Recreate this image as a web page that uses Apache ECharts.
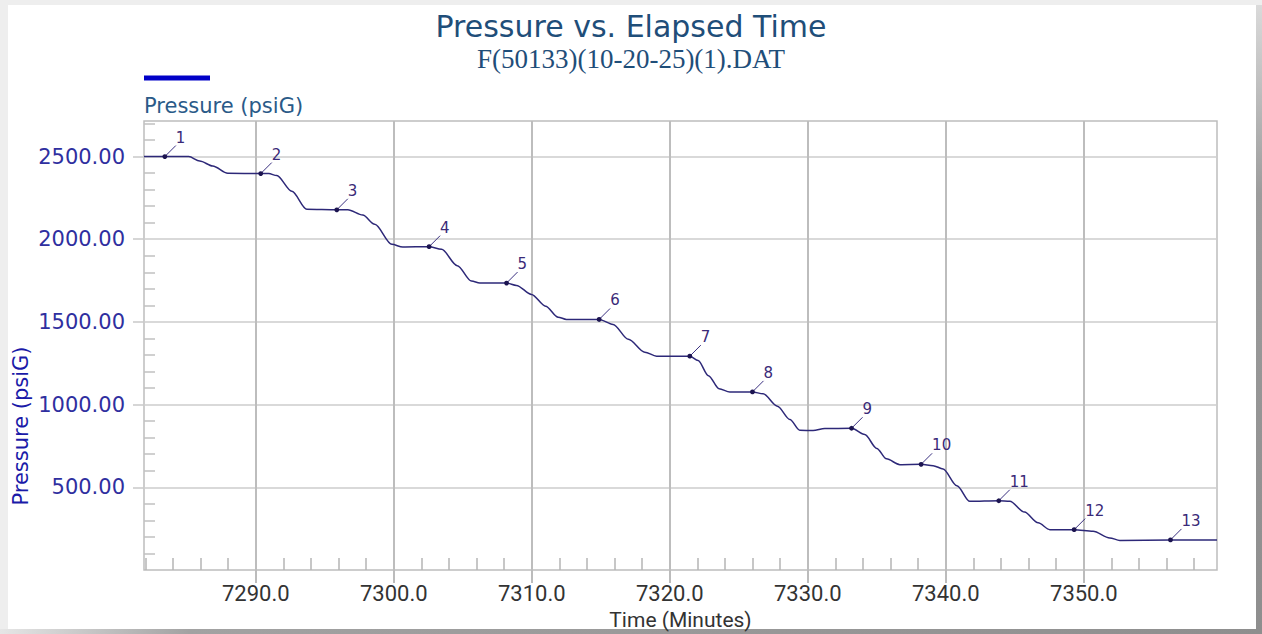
<!DOCTYPE html>
<html><head><meta charset="utf-8">
<script src="https://cdn.jsdelivr.net/npm/echarts@6/dist/echarts.min.js"></script>
<style>
html,body{margin:0;padding:0;width:1262px;height:634px;overflow:hidden;background:#eeeeee;}
#white{position:absolute;left:8px;top:5px;width:1248px;height:624px;background:#fff;}
#rshadow{position:absolute;left:1256px;top:5px;width:6px;height:629px;background:linear-gradient(to bottom,#dadada,#9c9c9c 30%,#8e8e8e);}
#bshadow{position:absolute;left:0;top:629px;width:1262px;height:5px;background:linear-gradient(to right,#e6e6e6,#a2a2a2 15%,#8e8e8e);}
#chart{position:absolute;left:0;top:0;width:1262px;height:634px;}
</style></head>
<body>
<div id="white"></div><div id="rshadow"></div><div id="bshadow"></div>
<div id="chart"></div>
<script>
const titleText = 'Pressure vs. Elapsed Time';
const subtitleText = 'F(50133)(10-20-25)(1).DAT';
const seriesName = 'Pressure (psiG)';
const xAxisName = 'Time (Minutes)';
const yAxisName = 'Pressure (psiG)';

const xMajorTicks = [7290, 7300, 7310, 7320, 7330, 7340, 7350];
const xMinorTicks = [7282, 7284, 7286, 7288, 7292, 7294, 7296, 7298, 7302, 7304, 7306, 7308,
  7312, 7314, 7316, 7318, 7322, 7324, 7326, 7328, 7332, 7334, 7336, 7338,
  7342, 7344, 7346, 7348, 7352, 7354, 7356, 7358];
const yMajorTicks = [500, 1000, 1500, 2000, 2500];
const yMinorTicks = [100, 200, 300, 400, 600, 700, 800, 900, 1100, 1200, 1300, 1400,
  1600, 1700, 1800, 1900, 2100, 2200, 2300, 2400, 2600, 2700];

const timeValues = [7281.9, 7283.41, 7285.14, 7285.94, 7286.88, 7287.97, 7290.36, 7290.94,
  7291.52, 7292.61, 7293.70, 7295.87, 7296.67, 7297.75, 7298.62, 7299.86, 7300.65, 7302.56,
  7303.46, 7304.6, 7305.63, 7306.23, 7308.17, 7308.89, 7309.98, 7311.0, 7311.91, 7312.51, 7314.88,
  7315.89, 7317.0, 7318.19, 7319.04, 7321.45, 7322.05, 7322.8, 7323.57, 7324.35, 7325.99,
  7326.76, 7327.8, 7328.70, 7329.42, 7330.38, 7331.23, 7333.17, 7334.13, 7335.0, 7335.70, 7336.67,
  7338.21, 7339.08, 7339.80, 7340.8, 7341.74, 7343.84, 7344.64, 7345.7, 7346.69, 7347.54, 7349.30,
  7350.67, 7351.88, 7352.61, 7356.28, 7359.65];
const pressureValues = [2500, 2500, 2500, 2473, 2443, 2399, 2397, 2397,
  2385, 2290, 2181, 2178, 2178, 2146, 2090, 1969, 1953, 1955,
  1939, 1840, 1747, 1735, 1735, 1721, 1666, 1595, 1529, 1515, 1515,
  1485, 1395, 1317, 1293, 1293, 1267, 1175, 1096, 1077, 1077,
  1065, 990, 910, 845, 843, 855, 857, 819, 735, 672, 637,
  639, 631, 611, 510, 415, 419, 415, 350, 285, 244, 244,
  234, 194, 179, 182, 182];

const markerIds = [1, 2, 3, 4, 5, 6, 7, 8, 9, 10, 11, 12, 13];
const markerTimes = [7283.41, 7290.36, 7295.87, 7302.56, 7308.17, 7314.88, 7321.45, 7325.99,
  7333.17, 7338.21, 7343.84, 7349.30, 7356.28];
const markerPressures = [2500, 2397, 2178, 1955, 1735, 1515, 1293, 1077, 857, 639, 419, 244, 182];

const X_MIN = 7281.9, X_MAX = 7359.65, Y_MIN = 0, Y_MAX = 2715;

const chart = echarts.init(document.getElementById('chart'), null, {renderer: 'svg'});
const lineData = timeValues.map((t, i) => [t, pressureValues[i]]);
const markerData = markerIds.map((id, i) => [markerTimes[i], markerPressures[i], id]);

chart.setOption({
  backgroundColor: 'transparent',
  animation: false,
  title: [
    {text: titleText, left: 'center', top: 6,
     textStyle: {fontFamily: 'DejaVu Sans', fontSize: 30, fontWeight: 'normal', color: '#1f4e79'}},
    {text: subtitleText, left: 'center', top: 40,
     textStyle: {fontFamily: 'Liberation Serif', fontSize: 27, fontWeight: 'normal', color: '#1f4e79'}}
  ],
  grid: {left: 144, right: 45, top: 121, bottom: 64, show: true, outerBoundsMode: 'none', containLabel: false,
         borderColor: '#bdbdbd', borderWidth: 1.5, backgroundColor: 'transparent'},
  xAxis: [
    {type: 'value', min: X_MIN, max: X_MAX, position: 'bottom',
     axisLine: {show: false},
     axisTick: {show: true, customValues: xMajorTicks, length: 13, lineStyle: {color: '#bcbcbc', width: 2}},
     axisLabel: {customValues: xMajorTicks, formatter: v => v.toFixed(1), fontFamily: 'Roboto',
                 fontSize: 22, color: '#333333', margin: 13, lineHeight: 20},
     splitLine: {show: true, lineStyle: {color: '#bdbdbd', width: 2}},
     name: xAxisName, nameLocation: 'middle', nameGap: 40, nameMoveOverlap: false,
     nameTextStyle: {fontFamily: 'Roboto', fontSize: 21, color: '#333333', lineHeight: 20}},
    {type: 'value', min: X_MIN, max: X_MAX, position: 'bottom',
     axisLine: {show: false}, axisLabel: {show: false}, splitLine: {show: false},
     axisTick: {show: true, inside: true, customValues: xMinorTicks, length: 12,
                lineStyle: {color: '#b5b5b5', width: 1.5}}}
  ],
  yAxis: [
    {type: 'value', min: Y_MIN, max: Y_MAX, position: 'left',
     axisLine: {show: false},
     axisTick: {show: true, customValues: yMajorTicks, length: 11, lineStyle: {color: '#c8c8c8', width: 1.5}},
     axisLabel: {customValues: yMajorTicks, formatter: v => v.toFixed(2), fontFamily: 'DejaVu Sans',
                 fontSize: 21, color: '#2f2f9f', margin: 19},
     splitLine: {show: true, lineStyle: {color: '#cccccc', width: 1.5}}},
    {type: 'value', min: Y_MIN, max: Y_MAX, position: 'left',
     axisLine: {show: false}, axisLabel: {show: false}, splitLine: {show: false},
     axisTick: {show: true, inside: true, customValues: yMinorTicks, length: 11,
                lineStyle: {color: '#c0c0c0', width: 1.5}}}
  ],
  graphic: [
    {type: 'line', shape: {x1: 144, y1: 78, x2: 210, y2: 78}, style: {stroke: '#0000c8', lineWidth: 5}},
    {type: 'text', x: 144, y: 106, style: {text: seriesName, font: '21px "DejaVu Sans"', fill: '#2a5a88',
      verticalAlign: 'middle', align: 'left'}},
    {type: 'text', x: 21, y: 426, rotation: Math.PI / 2, style: {text: yAxisName, font: '21px "DejaVu Sans"',
      fill: '#1a1aa8', verticalAlign: 'middle', align: 'center'}}
  ],
  series: [
    {name: seriesName, type: 'line', xAxisIndex: 0, yAxisIndex: 0, data: lineData,
     showSymbol: false, smooth: 0.3, smoothMonotone: 'x',
     lineStyle: {color: '#2d2878', width: 1.5}, z: 4},
    {type: 'custom', xAxisIndex: 0, yAxisIndex: 0, data: markerData, encode: {x: 0, y: 1}, z: 5,
     renderItem: function (params, api) {
       const p = api.coord([api.value(0), api.value(1)]);
       return {type: 'group', children: [
         {type: 'line', shape: {x1: p[0] + 1, y1: p[1] - 1, x2: p[0] + 11, y2: p[1] - 11},
          style: {stroke: '#3a3080', lineWidth: 1}},
         {type: 'circle', shape: {cx: p[0], cy: p[1], r: 2.4}, style: {fill: '#1c1450'}},
         {type: 'text', x: p[0] + 11, y: p[1] - 19,
          style: {text: String(api.value(2)), fill: '#3a2a78', font: '15px "DejaVu Sans"',
                  verticalAlign: 'middle', align: 'left'}}
       ]};
     }}
  ]
});
</script>
</body></html>
